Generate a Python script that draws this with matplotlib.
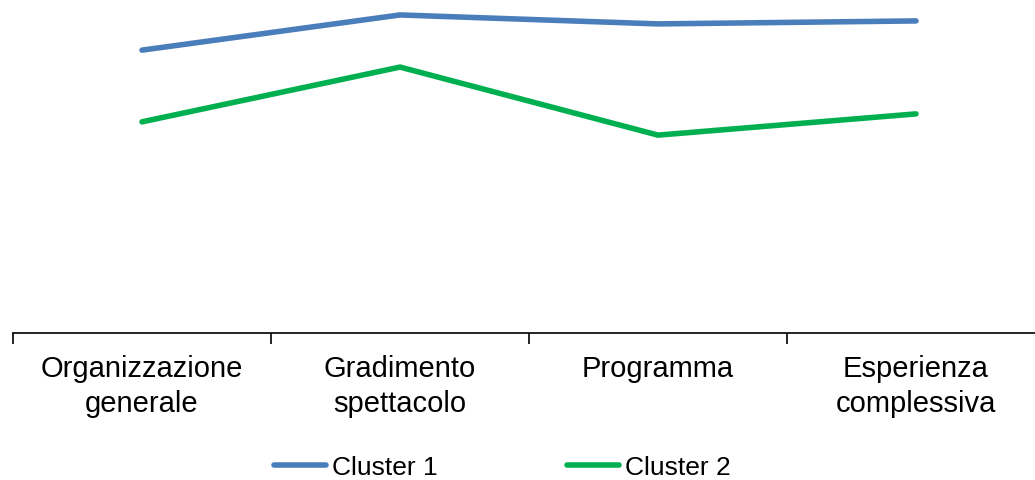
import matplotlib
matplotlib.use("Agg")
import matplotlib.pyplot as plt

categories = ["Organizzazione\ngenerale", "Gradimento\nspettacolo", "Programma", "Esperienza\ncomplessiva"]
cluster1 = [8.52, 9.58, 9.31, 9.40]
cluster2 = [6.36, 8.01, 5.96, 6.60]
series_names = ["Cluster 1", "Cluster 2"]
colors = ["#4A7EBB", "#00B050"]

plt.rcParams['font.family'] = ['Liberation Sans', 'DejaVu Sans']

fig = plt.figure(figsize=(10.35, 4.81), dpi=100)
ax = fig.add_axes([13/1035, 147/481, 1032/1035, 332/481])

x = list(range(len(categories)))
for vals, name, c in zip([cluster1, cluster2], series_names, colors):
    ax.plot(x, vals, color=c, lw=4.0, solid_capstyle='round', solid_joinstyle='round', label=name)

ax.set_xlim(-0.5, len(categories) - 0.5)
ax.set_ylim(0, 10)
ax.set_xticks([i + 0.5 for i in range(-1, len(categories))], minor=False)
ax.set_xticklabels([])
ax.set_xticks(x, minor=True)
ax.set_xticklabels(categories, minor=True, fontsize=21, linespacing=1.33)
ax.tick_params(axis='x', which='major', length=8, width=1.2, direction='out', color='black')
ax.tick_params(axis='x', which='minor', length=0, pad=14.8)
ax.set_yticks([])
for s in ['top', 'right', 'left']:
    ax.spines[s].set_visible(False)
ax.spines['bottom'].set_linewidth(1.2)
ax.spines['bottom'].set_clip_on(False)

leg = fig.legend(loc='center', bbox_to_anchor=(502/1035, 13/481), ncol=2, frameon=False,
                 fontsize=19, handlelength=2.0, handletextpad=0.2, columnspacing=4.9)

fig.savefig("out.png", dpi=100)
